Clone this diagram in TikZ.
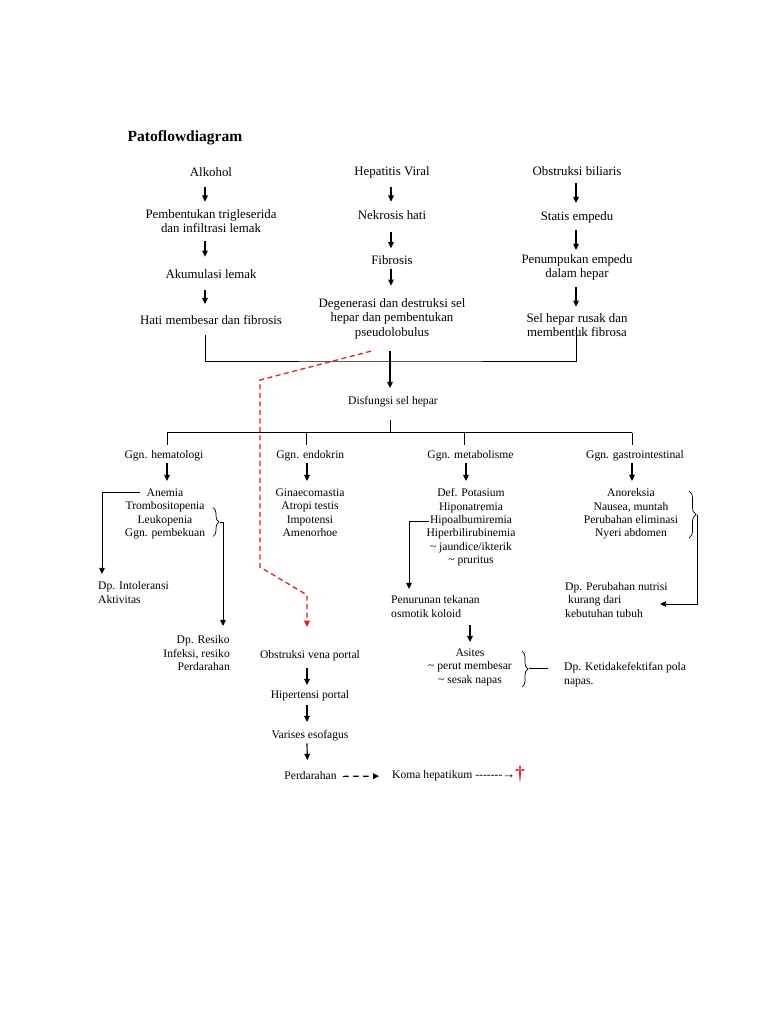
\documentclass[tikz,border=0pt]{standalone}
\usepackage{fontspec}
\setmainfont{Liberation Serif}
\usetikzlibrary{arrows.meta,decorations.pathreplacing}
\newcommand\ftop{\fontsize{12.85}{14.5}\selectfont}
\newcommand\fbot{\fontsize{11.6}{13.4}\selectfont}
\newcommand\hy{\mbox{-}}
\definecolor{dred}{RGB}{228,30,36}
\begin{document}
\begin{tikzpicture}[x=1pt,y=-1pt,
  toptxt/.style={inner sep=0pt, align=center, font=\ftop, execute at begin node=\strut, execute at end node=\strut},
  bottxt/.style={inner sep=0pt, align=center, font=\fbot, execute at begin node=\strut, execute at end node=\strut},
  arr/.style={line width=1.15pt, -{Triangle[length=6.2pt,width=5.6pt]}},
  elbow/.style={line width=0.95pt, -{Triangle[length=6.2pt,width=5.6pt]}},
  ln/.style={line width=0.8pt},
  gap/.style 2 args={shorten <=#1, shorten >=#2},
  hbrace/.style={line width=0.7pt, decorate, decoration={brace, amplitude=#1}},
  hbrace/.default=6pt,
  reddash/.style={draw=dred, line width=1.3pt, dash pattern=on 5pt off 3.5pt, -{Triangle[length=6.5pt,width=6pt]}},
  blackdash/.style={line width=1.1pt, dash pattern=on 5.5pt off 4.5pt, -{Triangle[length=6pt,width=5.6pt]}},
]
\fill[white] (0,0) rectangle (768,1024);
\path[use as bounding box] (0,0) rectangle (768,1024);

% title
\node[anchor=base west, inner sep=0pt, font=\fontsize{15.5}{18}\selectfont\bfseries] (title) at (127.5,141.5) {Patoflowdiagram};

% top three columns
\node[toptxt, anchor=north] (alk)  at (211,165.85) {Alkohol};
\node[toptxt, anchor=north] (hep)  at (392,165.35) {Hepatitis Viral};
\node[toptxt, anchor=north] (obs)  at (577,164.85) {Obstruksi biliaris};
\node[toptxt, anchor=north] (pemb) at (211,209.05) {Pembentukan trigleserida\\dan infiltrasi lemak};
\node[toptxt, anchor=north] (nekr) at (392,209.05) {Nekrosis hati};
\node[toptxt, anchor=north] (stat) at (577,209.75) {Statis empedu};
\node[toptxt, anchor=north] (akum) at (211,268.05) {Akumulasi lemak};
\node[toptxt, anchor=north] (fibr) at (392,254.05) {Fibrosis};
\node[toptxt, anchor=north] (penu) at (577,254.05) {Penumpukan empedu\\dalam hepar};
\node[toptxt, anchor=north] (hati) at (211,314.05) {Hati membesar dan fibrosis};
\node[toptxt, anchor=north] (dege) at (392,298.35) {Degenerasi dan destruksi sel\\hepar dan pembentukan\\pseudolobulus};
\node[toptxt, anchor=north] (sel)  at (577,313.35) {Sel hepar rusak dan\\membentuk fibrosa};

\draw[arr, gap={6.3pt}{7.35pt}]  ([xshift=-6pt]alk.south)  -- ([xshift=-6pt]pemb.north);
\draw[arr, gap={3.65pt}{11.35pt}] ([xshift=-6pt]pemb.south) -- ([xshift=-6pt]akum.north);
\draw[arr, gap={7.45pt}{10.05pt}] ([xshift=-6pt]akum.south) -- ([xshift=-6pt]hati.north);

\draw[arr, gap={6.85pt}{7.35pt}] ([xshift=-1pt]hep.south)  -- ([xshift=-1pt]nekr.north);
\draw[arr, gap={8.15pt}{5.75pt}] ([xshift=-1pt]nekr.south) -- ([xshift=-1pt]fibr.north);
\draw[arr, gap={0pt}{12.65pt}]   ([xshift=-1pt]fibr.south) -- ([xshift=-1pt]dege.north);

\draw[arr, gap={3.65pt}{6.75pt}] ([xshift=-1pt]obs.south)  -- ([xshift=-1pt]stat.north);
\draw[arr, gap={5.75pt}{4.05pt}] ([xshift=-1pt]stat.south) -- ([xshift=-1pt]penu.north);
\draw[arr, gap={4.95pt}{6.65pt}] ([xshift=-1pt]penu.south) -- ([xshift=-1pt]sel.north);

\coordinate (mj) at (390,361);
\draw[ln] ([xshift=-6pt,yshift=-6.45pt]hati.south) |- (mj) -| ([xshift=-1pt,yshift=14.35pt]sel.south);

% disfungsi
\node[bottxt, anchor=north] (disf) at (393,395.12) {Disfungsi sel hepar};
\draw[arr, gap={10.15pt}{7.1pt}] ([xshift=-2pt]dege.south) -- ([xshift=-3pt]disf.north);

\coordinate (bj) at (390,432.5);
\draw[ln, shorten <=11.5pt] ([xshift=-3pt]disf.south) -- (bj);

% branch labels
\node[bottxt, anchor=north] (gh) at (164,448.42) {Ggn. hematologi};
\node[bottxt, anchor=north] (ge) at (310.3,448.42) {Ggn. endokrin};
\node[bottxt, anchor=north] (gm) at (470.5,448.42) {Ggn. metabolisme};
\node[bottxt, anchor=north] (gg) at (635,448.42) {Ggn. gastrointestinal};

\draw[ln] ([xshift=3pt]gh.north |- bj) -- ([xshift=-3pt]gg.north |- bj);
\draw[ln, shorten >=3.4pt] ([xshift=3pt]gh.north |- bj) -- ([xshift=3pt]gh.north);
\draw[ln, shorten >=3.4pt] ([xshift=-4.3pt]ge.north |- bj) -- ([xshift=-4.3pt]ge.north);
\draw[ln, shorten >=3.4pt] ([xshift=-6.2pt]gm.north |- bj) -- ([xshift=-6.2pt]gm.north);
\draw[ln, shorten >=3.4pt] ([xshift=-3pt]gg.north |- bj) -- ([xshift=-3pt]gg.north);

% lists
\node[bottxt, anchor=north] (hl) at (165,488.42) {Anemia\\Trombositopenia\\Leukopenia\\Ggn. pembekuan};
\node[bottxt, anchor=north] (el) at (310,488.42) {Ginaecomastia\\Atropi testis\\Impotensi\\Amenorhoe};
\node[bottxt, anchor=north] (ml) at (471,488.42) {Def. Potasium\\Hiponatremia\\Hipoalbumiremia\\Hiperbilirubinemia\\\textasciitilde{} jaundice/ikterik\\\textasciitilde{} pruritus};
\node[bottxt, anchor=north] (gl) at (631,488.42) {Anoreksia\\Nausea, muntah\\Perubahan eliminasi\\Nyeri abdomen};

\draw[arr, gap={1.2pt}{7.4pt}] ([xshift=3pt]gh.south) -- ([xshift=2pt]hl.north);
\draw[arr, gap={1.2pt}{7.4pt}] ([xshift=-3.3pt]ge.south) -- ([xshift=-3pt]el.north);
\draw[arr, gap={1.2pt}{7.4pt}] ([xshift=-4.5pt]gm.south) -- ([xshift=-5pt]ml.north);
\draw[arr, gap={1.2pt}{7.4pt}] ([xshift=-3pt]gg.south) -- ([xshift=1pt]gl.north);

% diagnoses and results
\node[bottxt, anchor=north west, align=left] (dpi) at (98,581.42) {Dp. Intoleransi\\Aktivitas};
\node[bottxt, anchor=north east, align=right] (dpr) at (230,635.42) {Dp. Resiko\\Infeksi, resiko\\Perdarahan};
\node[bottxt, anchor=north west, align=left] (pen) at (391,595.42) {Penurunan tekanan\\osmotik koloid};
\node[bottxt, anchor=north west, align=left] (dpn) at (565,582.12) {Dp. Perubahan nutrisi\\\hspace*{3pt}kurang dari\\kebutuhan tubuh};
\node[bottxt, anchor=north] (asi) at (470,648.42) {Asites\\\textasciitilde{} perut membesar\\\textasciitilde{} sesak napas};
\node[bottxt, anchor=north west, align=left] (dpk) at (564,662.42) {Dp. Ketidakefektifan pola\\napas.};

% hematologi connectors
\coordinate (anL) at (140,492);
\draw[elbow] (anL) -| ([xshift=4pt,yshift=7.4pt]dpi.north west);
\draw[hbrace] (213,507.5) -- (213,536.5);
\coordinate (hbT) at (220,522);
\draw[elbow] (hbT) -| ([xshift=-7pt,yshift=9.4pt]dpr.north east);

% metabolisme connectors
\coordinate (hpL) at (429,521);
\draw[elbow] (hpL) -| ([xshift=18pt,yshift=6.4pt]pen.north west);
\coordinate (asA) at (470,625);
\draw[arr, shorten >=6.4pt] (asA) -- (asi.north);
\draw[hbrace] (522,651) -- (522,687);
\coordinate (abT) at (529,668);
\coordinate (abE) at (548,668);
\draw[ln] (abT) -- (abE);

% gastro connectors
\draw[hbrace=7pt] (689,491) -- (689,538);
\coordinate (gbT) at (697,514.5);
\coordinate (gbE) at (660,604);
\draw[elbow] (gbT) |- (gbE);

% portal chain
\node[bottxt, anchor=north] (ovp)  at (310,648.42) {Obstruksi vena portal};
\node[bottxt, anchor=north] (hipp) at (310,688.42) {Hipertensi portal};
\node[bottxt, anchor=north] (vare) at (310,728.42) {Varises esofagus};
\node[bottxt, anchor=north] (perd) at (310.5,769.42) {Perdarahan};
\node[bottxt, anchor=base west] (koma) at (392,778.8) {Koma hepatikum \hy\hy\hy\hy\hy\hy\hy{\fontsize{13}{13}\selectfont →}};
\node[inner sep=0pt, text=dred, font=\fontsize{19}{19}\selectfont\bfseries] (dag) at (520,774) {†};

\draw[arr, gap={6.2pt}{3.4pt}] ([xshift=-3pt]ovp.south)  -- ([xshift=-3pt]hipp.north);
\draw[arr, gap={3.2pt}{6.4pt}] ([xshift=-3pt]hipp.south) -- ([xshift=-3pt]vare.north);
\draw[arr, gap={1.2pt}{9.4pt}] ([xshift=-3pt]vare.south) -- ([xshift=-3pt]perd.north);
\draw[blackdash, gap={6.4pt}{13pt}] (perd.east) -- (koma.west);

% red dashed path
\draw[reddash, shorten >=21.4pt] ([xshift=-21pt,yshift=-10.15pt]dege.south) -- (260,380) -- (260,567) -- (307,595) -- ([xshift=-3pt]ovp.north);
\end{tikzpicture}
\end{document}
